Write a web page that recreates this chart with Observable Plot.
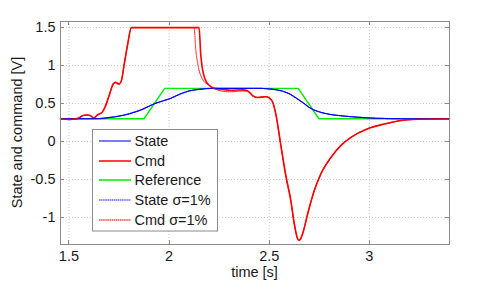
<!DOCTYPE html>
<html>
<head>
<meta charset="utf-8">
<script src="https://cdn.jsdelivr.net/npm/d3@7"></script>
<script src="https://cdn.jsdelivr.net/npm/@observablehq/plot@0.6"></script>
<style>
  html, body { margin: 0; padding: 0; background: #fff; }
</style>
</head>
<body>
<div id="chart"></div>
<script>
// ---- Data ----
const xTicks = [1.5, 2, 2.5, 3];
const yTicks = [-1, -0.5, 0, 0.5, 1, 1.5];
const seriesNames = ["State", "Cmd", "Reference", "State σ=1%", "Cmd σ=1%"];

const tRef = [1.458, 1.875, 1.978, 2.645, 2.748, 3.4];
const vRef = [0.3, 0.3, 0.7, 0.7, 0.3, 0.3];

const tState = [1.458, 1.6, 1.65, 1.708, 1.75, 1.792, 1.83, 1.862, 1.895, 1.928, 1.968, 2.008, 2.058, 2.092, 2.125, 2.16, 2.2, 2.3, 2.45, 2.5, 2.53, 2.558, 2.6, 2.642, 2.67, 2.70, 2.73, 2.758, 2.8, 2.858, 2.95, 3.05, 3.2, 3.4];
const vState = [0.30, 0.30, 0.303, 0.32, 0.335, 0.36, 0.39, 0.42, 0.46, 0.50, 0.535, 0.57, 0.63, 0.66, 0.68, 0.69, 0.70, 0.70, 0.70, 0.693, 0.685, 0.67, 0.63, 0.56, 0.51, 0.45, 0.41, 0.385, 0.36, 0.34, 0.32, 0.306, 0.30, 0.30];

const tStateS = [1.458, 1.6, 1.65, 1.708, 1.75, 1.792, 1.83, 1.862, 1.895, 1.928, 1.968, 2.008, 2.058, 2.092, 2.125, 2.16, 2.2, 2.3, 2.45, 2.5, 2.53, 2.558, 2.6, 2.642, 2.67, 2.70, 2.73, 2.758, 2.8, 2.858, 2.95, 3.05, 3.2, 3.4];
const vStateS = [0.30, 0.30, 0.302, 0.318, 0.334, 0.358, 0.388, 0.418, 0.458, 0.498, 0.533, 0.568, 0.628, 0.658, 0.678, 0.688, 0.698, 0.70, 0.70, 0.692, 0.683, 0.668, 0.628, 0.558, 0.508, 0.448, 0.408, 0.384, 0.359, 0.339, 0.319, 0.305, 0.30, 0.30];

const tCmd = [1.458, 1.48, 1.5, 1.525, 1.545, 1.567, 1.592, 1.608, 1.625, 1.642, 1.667, 1.683, 1.70, 1.722, 1.733, 1.75, 1.762, 1.775, 1.792, 1.812, 2.142, 2.150, 2.158, 2.167, 2.18, 2.2, 2.225, 2.26, 2.308, 2.367, 2.392, 2.417, 2.442, 2.483, 2.5, 2.517, 2.533, 2.558, 2.583, 2.608, 2.625, 2.642, 2.65, 2.667, 2.692, 2.725, 2.758, 2.808, 2.858, 2.908, 2.992, 3.075, 3.158, 3.242, 3.4];
const vCmd = [0.30, 0.295, 0.29, 0.297, 0.305, 0.34, 0.35, 0.34, 0.31, 0.35, 0.39, 0.47, 0.60, 0.76, 0.78, 0.76, 0.80, 1.00, 1.26, 1.50, 1.50, 1.50, 1.15, 0.95, 0.82, 0.74, 0.70, 0.69, 0.675, 0.68, 0.67, 0.605, 0.58, 0.59, 0.575, 0.52, 0.36, -0.05, -0.45, -0.78, -1.08, -1.28, -1.30, -1.21, -0.95, -0.645, -0.425, -0.21, -0.05, 0.056, 0.17, 0.23, 0.276, 0.293, 0.30];

const tCmdS = [1.458, 1.48, 1.5, 1.525, 1.545, 1.567, 1.592, 1.608, 1.625, 1.642, 1.667, 1.683, 1.70, 1.722, 1.733, 1.75, 1.762, 1.775, 1.792, 1.812, 2.125, 2.133, 2.145, 2.167, 2.2, 2.242, 2.3, 2.367, 2.392, 2.417, 2.442, 2.483, 2.5, 2.517, 2.533, 2.558, 2.583, 2.608, 2.625, 2.642, 2.65, 2.667, 2.692, 2.725, 2.758, 2.808, 2.858, 2.908, 2.992, 3.075, 3.158, 3.242, 3.4];
const vCmdS = [0.30, 0.295, 0.29, 0.297, 0.305, 0.34, 0.35, 0.34, 0.31, 0.35, 0.39, 0.47, 0.60, 0.76, 0.77, 0.75, 0.80, 1.00, 1.26, 1.50, 1.50, 1.22, 1.00, 0.82, 0.74, 0.68, 0.655, 0.665, 0.66, 0.60, 0.58, 0.59, 0.575, 0.52, 0.36, -0.05, -0.45, -0.78, -1.08, -1.28, -1.30, -1.21, -0.95, -0.645, -0.425, -0.21, -0.05, 0.056, 0.17, 0.23, 0.276, 0.293, 0.30];

const xDomain = [1.458, 3.4];
const yDomain = [-1.355, 1.58];

// ---- Build tables ----
const toRows = (ts, vs) => ts.map((t, i) => ({t, v: vs[i]}));
const refRows = toRows(tRef, vRef);
const stateRows = toRows(tState, vState);
const stateSRows = toRows(tStateS, vStateS);
const cmdRows = toRows(tCmd, vCmd);
const cmdSRows = toRows(tCmdS, vCmdS);

const lineStyles = [
  {stroke: "#2a2aff", strokeWidth: 1},
  {stroke: "#ff0000", strokeWidth: 1.6},
  {stroke: "#00ee00", strokeWidth: 1.4},
  {stroke: "#0000ff", strokeWidth: 1.2, strokeDasharray: "1,1"},
  {stroke: "#ff0000", strokeWidth: 1, strokeDasharray: "1,1"}
];
const legendColors = ["#5a5aff", "#ff1010", "#10ee10", "#6060ff", "#ff4040"];

const FONT = "'Liberation Sans', Arial, Helvetica, sans-serif";
const FRAME = "#8a8a8a";
const INK = "#1a1a1a";

const chart = Plot.plot({
  width: 479,
  height: 281,
  marginLeft: 60,
  marginRight: 30,
  marginTop: 21,
  marginBottom: 37,
  x: {domain: xDomain},
  y: {domain: yDomain},
  style: {fontFamily: FONT, fontSize: "14.5px", color: INK, background: "#fff", overflow: "visible"},
  marks: [
    Plot.gridX(xTicks, {stroke: "#c8c8c8", strokeOpacity: 1, strokeDasharray: "1,2"}),
    Plot.gridY(yTicks, {stroke: "#c8c8c8", strokeOpacity: 1, strokeDasharray: "1,2"}),
    Plot.line(refRows, {x: "t", y: "v", ...lineStyles[2], curve: "linear"}),
    Plot.line(stateRows, {x: "t", y: "v", ...lineStyles[0], curve: "monotone-x"}),
    Plot.line(cmdRows, {x: "t", y: "v", ...lineStyles[1], curve: "monotone-x"}),
    Plot.line(stateSRows, {x: "t", y: "v", ...lineStyles[3], curve: "monotone-x"}),
    Plot.line(cmdSRows, {x: "t", y: "v", ...lineStyles[4], curve: "monotone-x"}),
    Plot.frame({stroke: FRAME, strokeWidth: 1}),
    Plot.axisX(xTicks, {anchor: "bottom", tickSize: 0, tickPadding: 6, tickFormat: d => String(d), label: null}),
    Plot.axisY(yTicks, {anchor: "left", tickSize: 0, tickPadding: 5, tickFormat: d => String(d), label: null})
  ]
});

document.getElementById("chart").appendChild(chart);

// ---- Inward ticks on all four sides, through Plot's scales ----
const svgSel = d3.select(chart);
const sx = chart.scale("x"), sy = chart.scale("y");
const X = v => sx.apply(v), Y = v => sy.apply(v);
const pLeft = 60, pRight = 479 - 30, pTop = 21, pBottom = 281 - 37;
const tk = svgSel.append("g").attr("stroke", FRAME).attr("stroke-width", 1);
xTicks.forEach(v => {
  const px = Math.round(X(v)) + 0.5;
  tk.append("line").attr("x1", px).attr("x2", px).attr("y1", pBottom).attr("y2", pBottom - 4);
  tk.append("line").attr("x1", px).attr("x2", px).attr("y1", pTop).attr("y2", pTop + 4);
});
yTicks.forEach(v => {
  const py = Math.round(Y(v)) + 0.5;
  tk.append("line").attr("x1", pLeft).attr("x2", pLeft + 4).attr("y1", py).attr("y2", py);
  tk.append("line").attr("x1", pRight).attr("x2", pRight - 4).attr("y1", py).attr("y2", py);
});

// ---- Axis titles ----
svgSel.append("text")
  .attr("x", (pLeft + pRight) / 2).attr("y", 277)
  .attr("text-anchor", "middle")
  .attr("fill", INK).attr("font-family", FONT).attr("font-size", "14.5px")
  .text("time [s]");
svgSel.append("text")
  .attr("transform", `translate(22,${(pTop + pBottom) / 2}) rotate(-90)`)
  .attr("text-anchor", "middle")
  .attr("fill", INK).attr("font-family", FONT).attr("font-size", "14.5px")
  .text("State and command [V]");

// ---- Legend ----
const lg = svgSel.append("g");
lg.append("rect")
  .attr("x", 92.5).attr("y", 129.5).attr("width", 125).attr("height", 101.5)
  .attr("fill", "#fff").attr("stroke", FRAME).attr("stroke-width", 1);
seriesNames.forEach((name, i) => {
  const cy = Math.round(140.7 + i * 19.8);
  const st = lineStyles[i];
  lg.append("line")
    .attr("x1", 99).attr("x2", 131).attr("y1", cy).attr("y2", cy)
    .style("stroke", legendColors[i]).style("stroke-width", "1.6px")
    .style("stroke-dasharray", st.strokeDasharray ? "1.5,0.6" : "none");
  lg.append("text")
    .attr("x", 134.5).attr("y", cy).attr("dy", "0.36em")
    .attr("text-anchor", "start")
    .attr("fill", INK).attr("font-family", FONT).attr("font-size", "14.5px")
    .text(name);
});
</script>
</body>
</html>
